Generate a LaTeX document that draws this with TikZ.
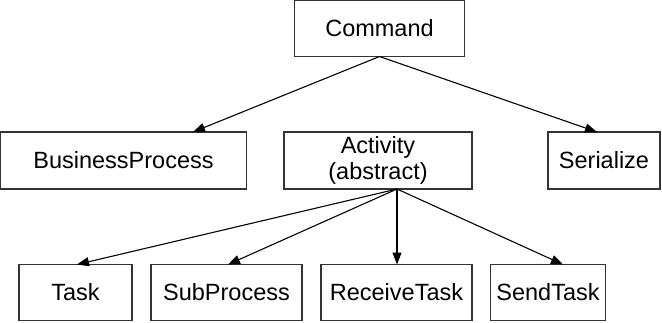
\documentclass[tikz,border=0pt]{standalone}
\usepackage{fontspec}
\setmainfont{Liberation Sans}
\usetikzlibrary{arrows.meta}
\begin{document}
\begin{tikzpicture}[x=1pt,y=-1pt,
  classbox/.style={draw=black!80, line width=1.4pt, rectangle, outer sep=0pt,
    inner sep=0pt, minimum height=56pt, align=center,
    font=\fontsize{23.5}{26}\selectfont},
  inherit/.style={draw=black, line width=1.1pt,
    -{Triangle[length=12pt,width=9pt]}}]
\useasboundingbox (0,0) rectangle (662,322);
% top class
\node[classbox, minimum width=170pt, minimum height=56pt] (cmd) at (379.5,28.5) {Command};
% middle row
\node[classbox, minimum width=245.5pt, minimum height=57pt] (bp) at (123.5,160.5) {BusinessProcess};
\node[classbox, minimum width=188pt, minimum height=57pt] (act) at (378,160.5) {Activity\\(abstract)};
\node[classbox, minimum width=112pt, minimum height=57pt] (ser) at (604,160.5) {Serialize};
% bottom row
\node[classbox, minimum width=113pt] (task) at (75.5,292.5) {Task};
\node[classbox, minimum width=151pt] (sub) at (226.5,292.5) {SubProcess};
\node[classbox, minimum width=151pt] (rcv) at (396.5,292.5) {ReceiveTask};
\node[classbox, minimum width=115pt] (snd) at (548,292.5) {SendTask};
% inheritance edges
\draw[inherit] (cmd.south) -- ([xshift=69.5pt]bp.north);
\draw[inherit] (cmd.south) -- ([xshift=-7pt]ser.north);
\coordinate (actfoot) at ([xshift=19pt]act.south);
\draw[inherit] (actfoot) -- ([xshift=1.5pt]task.north);
\draw[inherit] (actfoot) -- ([xshift=1.5pt]sub.north);
\draw[inherit] (actfoot) -- ([xshift=0.5pt]rcv.north);
\draw[inherit] (actfoot) -- ([xshift=15pt]snd.north);
\end{tikzpicture}
\end{document}
